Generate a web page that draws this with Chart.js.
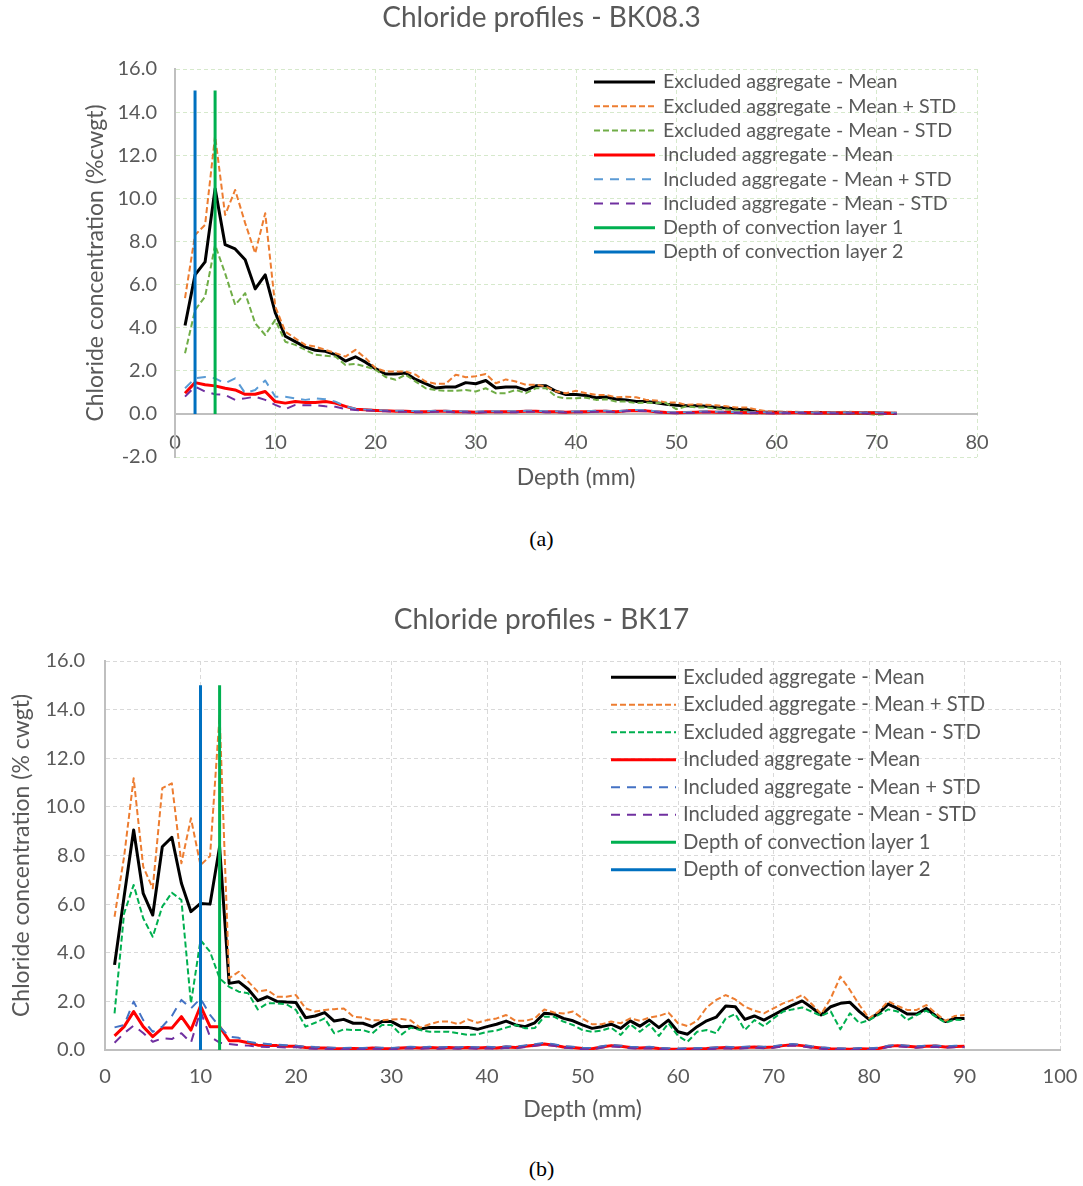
<!DOCTYPE html>
<html>
<head>
<meta charset="utf-8">
<title>Chloride profiles</title>
<script src="https://cdn.jsdelivr.net/npm/chart.js@4/dist/chart.umd.min.js"></script>
<style>
  html, body { margin: 0; padding: 0; background: #fff; }
  body { position: relative; width: 1083px; height: 1186px; overflow: hidden; }
  .panel { position: absolute; left: 0; }
  .caption { position: absolute; left: 0; width: 1083px; text-align: center;
             font-family: "Liberation Serif", "DejaVu Serif", serif; font-size: 22px; color: #000; }
</style>
</head>
<body>
<div class="panel" style="top:0"><canvas id="chartA" width="1083" height="510"></canvas></div>
<div class="caption" style="top:526px">(a)</div>
<div class="panel" style="top:580px"><canvas id="chartB" width="1083" height="560"></canvas></div>
<div class="caption" style="top:1156px">(b)</div>

<script>
// ---- BK08.3 data (depth in mm, chloride in %cwgt) ----
const depthsA = [1,2,3,4,5,6,7,8,9,10,11,12,13,14,15,16,17,18,19,20,21,22,23,24,25,26,27,28,29,30,
  31,32,33,34,35,36,37,38,39,40,41,42,43,44,45,46,47,48,49,50,51,52,53,54,55,56,57,58,59,60,
  61,62,63,64,65,66,67,68,69,70,71,72];
const exclMeanA = [4.1,6.45,7.05,10.45,7.85,7.65,7.15,5.8,6.45,4.7,
  3.6,3.35,3.1,2.95,2.9,2.75,2.45,2.65,2.4,2.1,
  1.85,1.85,1.9,1.6,1.4,1.2,1.25,1.25,1.45,1.4,
  1.55,1.2,1.25,1.25,1.1,1.3,1.3,1.05,0.9,0.9,
  0.85,0.75,0.78,0.68,0.65,0.58,0.58,0.52,0.45,0.4,
  0.38,0.38,0.35,0.3,0.28,0.22,0.2,0.1,0.08,0.08,
  0.06,0.07,0.05,0.06,0.05,0.04,0.05,0.04,0.05,0.04,0.03,0.02];
const exclPlusA = [5.37,8.3,8.77,12.9,9.23,10.39,8.85,7.45,9.31,4.98,
  3.82,3.5,3.2,3.12,2.97,2.82,2.66,2.97,2.59,2.13,
  1.97,1.97,1.97,1.82,1.5,1.4,1.4,1.82,1.7,1.75,
  1.85,1.42,1.6,1.5,1.35,1.35,1.27,1.04,0.96,1.07,
  0.96,0.88,0.88,0.77,0.8,0.77,0.65,0.62,0.53,0.53,
  0.42,0.45,0.42,0.4,0.35,0.3,0.3,0.2,0.12,0.1,
  0.1,0.1,0.08,0.1,0.08,0.08,0.1,0.08,0.08,0.08,0.06,0.05];
const exclMinusA = [2.81,4.82,5.44,7.84,6.52,5.06,5.6,4.2,3.66,4.36,
  3.35,3.2,2.97,2.74,2.7,2.66,2.27,2.32,2.2,2.05,
  1.71,1.58,1.82,1.5,1.19,1.11,1.07,1.07,1.11,1.04,
  1.19,0.96,0.96,1.11,0.96,1.19,1.19,0.8,0.72,0.72,
  0.75,0.65,0.68,0.57,0.57,0.5,0.52,0.5,0.5,0.22,
  0.35,0.3,0.3,0.25,0.2,0.15,0.12,0.02,0.03,0.05,
  0.03,0.04,0.02,0.03,0.02,0.01,0.02,0.01,0.0,-0.05,0.0,0.0];
const inclMeanA = [0.96,1.45,1.35,1.3,1.19,1.11,0.91,0.91,1.04,0.57,
  0.5,0.57,0.53,0.53,0.57,0.5,0.35,0.22,0.19,0.16,
  0.14,0.12,0.12,0.1,0.1,0.12,0.12,0.1,0.1,0.08,
  0.1,0.1,0.1,0.1,0.12,0.12,0.1,0.1,0.08,0.1,
  0.1,0.12,0.12,0.1,0.14,0.16,0.14,0.1,0.06,0.05,
  0.06,0.08,0.1,0.08,0.08,0.06,0.05,0.06,0.05,0.04,
  0.05,0.06,0.05,0.04,0.05,0.04,0.04,0.05,0.04,0.04,0.03,0.03];
const inclPlusA = [1.19,1.65,1.71,1.65,1.42,1.65,0.96,1.11,1.55,0.8,
  0.8,0.72,0.65,0.72,0.68,0.57,0.35,0.24,0.2,0.18,
  0.16,0.15,0.14,0.13,0.12,0.14,0.14,0.13,0.12,0.1,
  0.12,0.12,0.12,0.12,0.14,0.14,0.12,0.12,0.1,0.12,
  0.12,0.14,0.14,0.12,0.16,0.18,0.16,0.12,0.08,0.07,
  0.08,0.1,0.12,0.1,0.1,0.08,0.07,0.08,0.07,0.06,
  0.07,0.08,0.07,0.06,0.07,0.06,0.06,0.07,0.06,0.06,0.05,0.05];
const inclMinusA = [0.8,1.27,1.04,0.91,0.88,0.65,0.72,0.8,0.65,0.42,
  0.22,0.42,0.4,0.4,0.35,0.33,0.22,0.18,0.16,0.14,
  0.12,0.1,0.1,0.08,0.08,0.1,0.1,0.08,0.08,0.06,
  0.08,0.08,0.08,0.08,0.1,0.1,0.08,0.08,0.06,0.08,
  0.08,0.1,0.1,0.08,0.12,0.14,0.12,0.08,0.04,0.03,
  0.04,0.06,0.08,0.06,0.06,0.04,0.03,0.04,0.03,0.02,
  0.03,0.04,0.03,0.02,0.03,0.02,0.02,0.03,0.02,0.02,0.01,0.01];
const layer1DepthA = 4;
const layer2DepthA = 2;

// ---- BK17 data ----
const depthsB = [1,2,3,4,5,6,7,8,9,10,11,12,13,14,15,16,17,18,19,20,21,22,23,24,25,26,27,28,29,30,
  31,32,33,34,35,36,37,38,39,40,41,42,43,44,45,46,47,48,49,50,51,52,53,54,55,56,57,58,59,60,
  61,62,63,64,65,66,67,68,69,70,71,72,73,74,75,76,77,78,79,80,81,82,83,84,85,86,87,88,89,90];
const exclMeanB = [3.5,6.31,9.05,6.44,5.55,8.36,8.75,6.86,5.69,6.03,6.0,8.36,
  2.74,2.81,2.5,2.03,2.19,2.0,1.97,1.95,1.33,1.4,1.54,1.19,1.26,1.1,1.1,0.96,1.17,1.17,0.96,
  0.98,0.86,0.93,0.93,0.93,0.93,0.93,0.85,0.96,1.06,1.19,1.03,0.96,1.12,1.51,1.48,1.3,1.2,1.03,
  0.89,0.96,1.06,0.89,1.2,0.98,1.23,0.92,1.23,0.75,0.65,0.96,
  1.2,1.35,1.81,1.78,1.26,1.4,1.23,1.44,1.65,1.85,2.02,1.75,1.44,1.78,1.92,1.96,1.58,1.26,
  1.51,1.89,1.71,1.48,1.48,1.71,1.4,1.17,1.3,1.3];
const exclPlusB = [5.48,7.95,11.18,7.54,6.65,10.77,10.97,7.68,9.53,7.6,7.98,13.78,
  2.95,3.22,2.81,2.4,2.47,2.19,2.19,2.26,1.71,1.58,1.65,1.68,1.71,1.37,1.33,1.22,1.22,1.25,1.28,
  1.22,0.92,1.06,1.17,1.17,1.06,1.26,1.12,1.23,1.3,1.44,1.2,1.2,1.3,1.67,1.54,1.5,1.58,1.3,
  1.06,1.06,1.17,1.1,1.3,1.2,1.33,1.4,1.54,1.1,0.98,1.2,
  1.75,2.06,2.26,2.08,1.78,1.62,1.51,1.71,1.92,2.06,2.26,1.89,1.48,2.13,3.02,2.47,1.85,1.3,
  1.58,2.0,1.81,1.65,1.65,1.85,1.51,1.2,1.4,1.44];
const exclMinusB = [1.51,5.62,6.79,5.42,4.66,5.9,6.47,6.17,1.92,4.52,4.04,2.95,
  2.6,2.4,2.33,1.67,1.92,1.92,1.88,1.65,0.96,1.12,1.3,0.69,0.85,0.82,0.82,0.69,1.03,1.03,0.62,
  0.92,0.82,0.75,0.75,0.75,0.69,0.62,0.64,0.75,0.8,0.92,1.03,0.89,0.9,1.37,1.37,1.17,1.03,0.82,
  0.75,0.8,0.92,0.62,1.06,0.75,1.06,0.58,1.1,0.58,0.34,0.75,
  0.82,0.69,1.3,1.48,0.82,1.23,0.98,1.3,1.58,1.67,1.75,1.58,1.4,1.58,0.85,1.51,1.1,1.23,
  1.44,1.67,1.58,1.23,1.44,1.62,1.37,1.12,1.25,1.23];
const inclMeanB = [0.58,0.96,1.58,0.96,0.55,0.9,0.9,1.37,0.82,1.81,0.96,0.96,0.38,0.38,0.3,0.2,0.18,0.18,0.15,
  0.15,0.1,0.08,0.08,0.06,0.05,0.06,0.05,0.08,0.06,
  0.05,0.08,0.1,0.08,0.1,0.08,0.1,0.08,0.1,0.08,
  0.1,0.08,0.12,0.1,0.15,0.2,0.25,0.2,0.12,0.1,
  0.06,0.05,0.12,0.18,0.15,0.1,0.08,0.1,0.06,0.04,
  0.03,0.04,0.05,0.06,0.08,0.1,0.08,0.1,0.12,0.1,
  0.12,0.18,0.22,0.18,0.12,0.08,0.05,0.04,0.03,0.05,
  0.04,0.06,0.15,0.18,0.15,0.12,0.15,0.16,0.12,0.14,
  0.15];
const inclPlusB = [0.93,1.03,1.99,1.23,0.75,0.96,1.4,2.06,1.71,2.12,1.44,0.96,0.55,0.5,0.34,0.28,0.25,0.22,0.2,
  0.18,0.14,0.12,0.11,0.09,0.08,0.09,0.08,0.11,0.09,
  0.08,0.11,0.13,0.11,0.13,0.11,0.13,0.11,0.13,0.11,
  0.13,0.11,0.15,0.14,0.19,0.24,0.29,0.24,0.16,0.13,
  0.09,0.08,0.15,0.21,0.18,0.13,0.11,0.13,0.09,0.07,
  0.06,0.07,0.08,0.09,0.11,0.13,0.11,0.13,0.15,0.13,
  0.15,0.21,0.25,0.21,0.15,0.11,0.08,0.07,0.06,0.08,
  0.07,0.09,0.18,0.21,0.18,0.15,0.18,0.19,0.15,0.17,
  0.18];
const inclMinusB = [0.3,0.69,1.0,0.7,0.34,0.48,0.45,0.69,0.3,1.6,0.55,0.3,0.25,0.2,0.18,0.14,0.12,0.12,0.1,
  0.12,0.07,0.05,0.05,0.03,0.02,0.03,0.02,0.05,0.03,
  0.02,0.05,0.07,0.05,0.07,0.05,0.07,0.05,0.07,0.05,
  0.07,0.05,0.09,0.07,0.12,0.17,0.22,0.17,0.09,0.07,
  0.03,0.02,0.09,0.15,0.12,0.07,0.05,0.07,0.03,0.01,
  0.0,0.01,0.02,0.03,0.05,0.07,0.05,0.07,0.09,0.07,
  0.09,0.15,0.19,0.15,0.09,0.05,0.02,0.01,0.0,0.02,
  0.01,0.03,0.12,0.15,0.12,0.09,0.12,0.13,0.09,0.11,
  0.12];
const layer1DepthB = 12;
const layer2DepthB = 10;

// vertical marker lines run from 0 up to this concentration
const layerLineRange = [0, 15];

const seriesLabels = [
  'Excluded aggregate - Mean',
  'Excluded aggregate - Mean + STD',
  'Excluded aggregate - Mean - STD',
  'Included aggregate - Mean',
  'Included aggregate - Mean + STD',
  'Included aggregate - Mean - STD',
  'Depth of convection layer 1',
  'Depth of convection layer 2'
];

const TEXT_GREY = '#595959';
Chart.defaults.font.family = 'Lato, "Open Sans", sans-serif';
Chart.defaults.color = TEXT_GREY;

/**
 * Build one line dataset from x and y arrays
 */
function lineSeries(label, xs, ys, color, width, dash, index) {
  return {
    label: label,
    data: xs.map((x, i) => ({ x: x, y: ys[i] })),
    borderColor: color,
    backgroundColor: color,
    borderWidth: width,
    borderDash: dash,
    pointRadius: 0,
    pointHoverRadius: 0,
    tension: 0,
    fill: false,
    borderJoinStyle: 'round',
    order: 20 - index   // later series drawn on top, like the spreadsheet
  };
}

/**
 * Legend drawn inside the plot, at a fixed spot
 */
const insideLegend = {
  id: 'insideLegend',
  afterDraw(chart, args, opts) {
    const ctx = chart.ctx;
    ctx.save();
    ctx.font = opts.font;
    ctx.textBaseline = 'middle';
    ctx.textAlign = 'left';
    chart.data.datasets.forEach((ds, row) => {
      const y = opts.y + row * opts.rowGap;
      ctx.strokeStyle = ds.borderColor;
      ctx.lineWidth = ds.borderWidth;
      ctx.setLineDash(ds.borderDash || []);
      ctx.beginPath();
      ctx.moveTo(opts.x, y);
      ctx.lineTo(opts.x + opts.sampleWidth, y);
      ctx.stroke();
      ctx.setLineDash([]);
      ctx.fillStyle = TEXT_GREY;
      ctx.fillText(ds.label, opts.x + opts.sampleWidth + opts.textGap, y);
    });
    ctx.restore();
  }
};

function buildDatasets(xs, sets, colors, layer1, layer2) {
  const DASH_SHORT = [6, 3];
  const DASH_LONG = [9, 7];
  const vx1 = [layer1, layer1];
  const vx2 = [layer2, layer2];
  return [
    lineSeries(seriesLabels[0], xs, sets[0], '#000000', 3, [], 0),
    lineSeries(seriesLabels[1], xs, sets[1], '#ED7D31', 2, DASH_SHORT, 1),
    lineSeries(seriesLabels[2], xs, sets[2], colors.exclMinus, 2, DASH_SHORT, 2),
    lineSeries(seriesLabels[3], xs, sets[3], '#FF0000', 3, [], 3),
    lineSeries(seriesLabels[4], xs, sets[4], colors.inclPlus, 2, DASH_LONG, 4),
    lineSeries(seriesLabels[5], xs, sets[5], '#7030A0', 2, DASH_LONG, 5),
    lineSeries(seriesLabels[6], vx1, layerLineRange, '#00B050', 3, [], 6),
    lineSeries(seriesLabels[7], vx2, layerLineRange, '#0070C0', 3, [], 7)
  ];
}

function buildChart(canvasId, cfg) {
  const ctx = document.getElementById(canvasId).getContext('2d');
  return new Chart(ctx, {
    type: 'line',
    data: { datasets: cfg.datasets },
    plugins: [insideLegend],
    options: {
      responsive: false,
      animation: false,
      events: [],
      layout: { padding: cfg.padding },
      plugins: {
        legend: { display: false },
        tooltip: { enabled: false },
        title: {
          display: true,
          text: cfg.title,
          color: TEXT_GREY,
          font: { size: 28, weight: 'normal' },
          padding: cfg.titlePadding
        },
        insideLegend: cfg.legend
      },
      scales: {
        x: {
          type: 'linear',
          position: { y: 0 },
          min: cfg.xRange[0],
          max: cfg.xRange[1],
          grid: { color: cfg.gridColor, lineWidth: 1, drawTicks: false },
          border: { display: true, color: '#BFBFBF', width: 2, dash: [4, 3] },
          ticks: { stepSize: 10, padding: cfg.xTickPad, color: TEXT_GREY, font: { size: 20 } },
          title: { display: true, text: 'Depth (mm)', color: TEXT_GREY, font: { size: 23 }, padding: 0 },
          afterFit(scale) {
            scale.paddingLeft = 0;
            scale.paddingRight = 0;
            scale.height = cfg.xAxisHeight;
          }
        },
        y: {
          min: cfg.yRange[0],
          max: cfg.yRange[1],
          grid: { color: cfg.gridColor, lineWidth: 1, drawTicks: false },
          border: { display: true, color: '#BFBFBF', width: 2, dash: [4, 3] },
          ticks: {
            stepSize: 2,
            padding: cfg.yTickPad,
            color: TEXT_GREY,
            font: { size: 20 },
            callback: value => value.toFixed(1)
          },
          title: {
            display: true, text: cfg.yTitle, color: TEXT_GREY,
            font: { size: 23 }, padding: { top: cfg.yTitlePad, bottom: 0 }
          },
          afterFit(scale) {
            scale.paddingTop = 0;
            scale.paddingBottom = 0;
            scale.width = cfg.yAxisWidth;
          }
        },
        // empty spacer on the right so the title centres on the whole canvas
        spacer: {
          position: 'right',
          min: 0,
          max: 1,
          grid: { display: false },
          border: { display: false },
          ticks: { display: false },
          afterFit(scale) {
            scale.width = cfg.rightSpace;
          }
        }
      }
    }
  });
}

document.addEventListener('DOMContentLoaded', function() {
  buildChart('chartA', {
    title: 'Chloride profiles - BK08.3',
    titlePadding: { top: 1.2, bottom: 34.2 },
    padding: { left: 0, right: 0, top: 0, bottom: 53 },
    rightSpace: 106,
    xRange: [0, 80],
    yRange: [-2, 16],
    xTickPad: 17,
    xAxisHeight: 77.8,
    yTickPad: 18,
    yAxisWidth: 175,
    yTitle: 'Chloride concentration (%cwgt)',
    yTitlePad: 82.2,
    gridColor: '#D6E9CC',
    legend: { x: 594, y: 82, rowGap: 24.3, sampleWidth: 61, textGap: 8, font: '19.7px Lato' },
    datasets: buildDatasets(depthsA,
      [exclMeanA, exclPlusA, exclMinusA, inclMeanA, inclPlusA, inclMinusA],
      { exclMinus: '#70AD47', inclPlus: '#5B9BD5' }, layer1DepthA, layer2DepthA)
  });

  buildChart('chartB', {
    title: 'Chloride profiles - BK17',
    titlePadding: { top: 23.2, bottom: 24.2 },
    padding: { left: 0, right: 0, top: 0, bottom: 90 },
    rightSpace: 23,
    xRange: [0, 100],
    yRange: [0, 16],
    xTickPad: 15,
    xAxisHeight: 73.8,
    yTickPad: 20,
    yAxisWidth: 105,
    yTitle: 'Chloride concentration (% cwgt)',
    yTitlePad: 8.2,
    gridColor: '#D9D9D9',
    legend: { x: 611, y: 97.3, rowGap: 27.5, sampleWidth: 65, textGap: 7, font: '20.3px Lato' },
    datasets: buildDatasets(depthsB,
      [exclMeanB, exclPlusB, exclMinusB, inclMeanB, inclPlusB, inclMinusB],
      { exclMinus: '#00B050', inclPlus: '#4472C4' }, layer1DepthB, layer2DepthB)
  });
});
</script>
</body>
</html>
